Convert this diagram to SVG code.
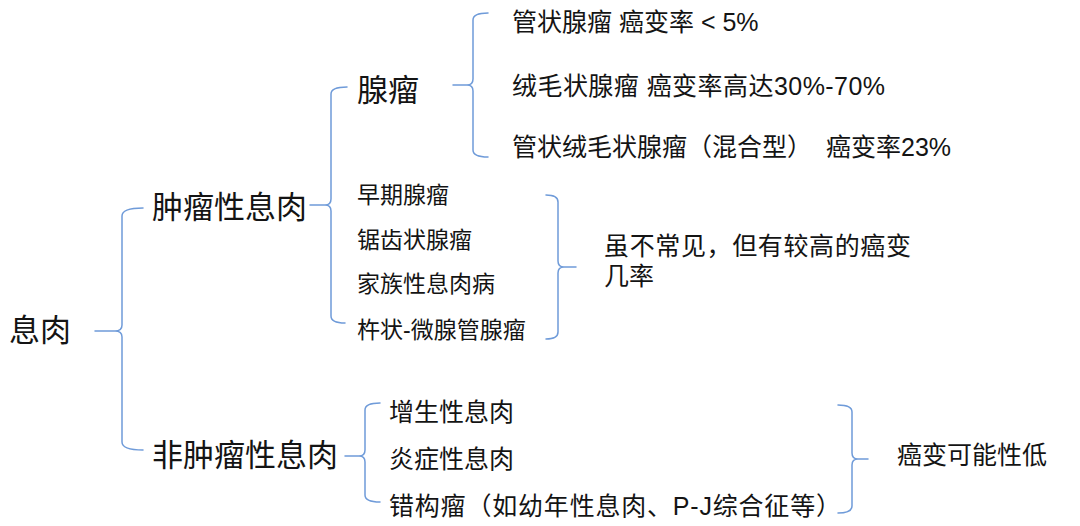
<svg xmlns="http://www.w3.org/2000/svg" width="1080" height="526" viewBox="0 0 1080 526">
<style>
.br{fill:none;stroke:#6f9bd9;stroke-width:1.5;stroke-linecap:round;stroke-linejoin:round}
text{font-family:"Liberation Sans","Noto Sans CJK SC",sans-serif;fill:#141414}
.l1{font-size:31px}
.l2{font-size:25px}
.l3{font-size:23px}
</style>
<rect width="1080" height="526" fill="#ffffff"/>
<g id="connectors">
<path class="br" d="M143,208 Q122,208 122,216 L122,325 Q122,331 115,331 L95,331 M115,331 Q122,331 122,337 L122,442 Q122,450 143,450"/>
<path class="br" d="M347,87 Q331,87 331,94 L331,199 Q331,205 325,205 L310,205 M325,205 Q331,205 331,211 L331,316 Q331,323 345,323"/>
<path class="br" d="M488,13 Q473,13 473,20 L473,79 Q473,85 467,85 L453,85 M467,85 Q473,85 473,91 L473,150 Q473,157 488,157"/>
<path class="br" d="M380,403 Q365,403 365,410 L365,450 Q365,456 359,456 L345,456 M359,456 Q365,456 365,462 L365,495 Q365,502 380,502"/>
<path class="br" d="M546,195 Q558,195 558,202 L558,261 Q558,267 564,267 L576,267 M564,267 Q558,267 558,273 L558,332 Q558,339 546,339"/>
<path class="br" d="M838,405 Q852,405 852,412 L852,453 Q852,459 858,459 L868,459 M858,459 Q852,459 852,465 L852,506 Q852,513 838,513"/>
</g>
<g id="n-root"><text class="l1" x="9" y="341">息肉</text></g>
<g id="n-tumor"><text class="l1" x="152" y="218">肿瘤性息肉</text></g>
<g id="n-nontumor"><text class="l1" x="152" y="466">非肿瘤性息肉</text></g>
<g id="n-adenoma"><text class="l1" x="357" y="101">腺瘤</text></g>
<g id="n-tubular"><text class="l2" x="512" y="31">管状腺瘤 癌变率 &lt; 5%</text></g>
<g id="n-villous"><text class="l2" x="512" y="95" textLength="373" lengthAdjust="spacing">绒毛状腺瘤 癌变率高达30%-70%</text></g>
<g id="n-mixed"><text class="l2" x="512" y="156">管状绒毛状腺瘤（混合型）<tspan dx="14">癌变率23%</tspan></text></g>
<g id="n-early"><text class="l3" x="357" y="203">早期腺瘤</text></g>
<g id="n-serrated"><text class="l3" x="357" y="248">锯齿状腺瘤</text></g>
<g id="n-familial"><text class="l3" x="357" y="292">家族性息肉病</text></g>
<g id="n-pestle"><text class="l3" x="357" y="338">杵状-微腺管腺瘤</text></g>
<g id="n-rare"><text class="l2" x="604" y="255" textLength="307" lengthAdjust="spacing">虽不常见，但有较高的癌变</text><text class="l2" x="604" y="285">几率</text></g>
<g id="n-hyper"><text class="l2" x="389" y="421">增生性息肉</text></g>
<g id="n-inflam"><text class="l2" x="389" y="468">炎症性息肉</text></g>
<g id="n-hamart"><text class="l2" x="389" y="515" textLength="452" lengthAdjust="spacing">错构瘤（如幼年性息肉、P-J综合征等）</text></g>
<g id="n-low"><text class="l2" x="897" y="464">癌变可能性低</text></g>
</svg>
